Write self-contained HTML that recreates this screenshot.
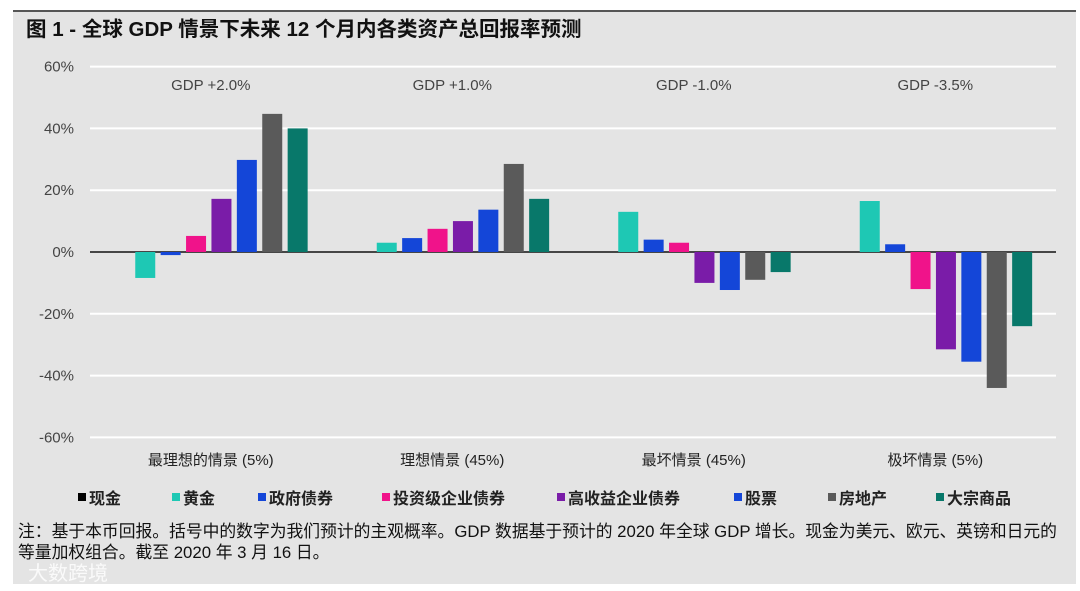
<!DOCTYPE html>
<html><head><meta charset="utf-8"><style>
body{margin:0;width:1080px;height:591px;background:#fff;overflow:hidden;font-family:"Liberation Sans","Noto Sans CJK SC",sans-serif}
#panel{position:absolute;left:13px;top:10px;width:1063px;height:572px;background:#e4e4e4;border-top:2px solid #555}
svg{position:absolute;left:0;top:0}
</style></head><body>
<div id="panel"></div>
<svg id="chart" width="1080" height="591">
<text x="26" y="36" font-size="20.5" font-weight="bold" fill="#111">图 1 - 全球 GDP 情景下未来 12 个月内各类资产总回报率预测</text>
<text x="18" y="537" font-size="16.8" fill="#111">注：基于本币回报。括号中的数字为我们预计的主观概率。GDP 数据基于预计的 2020 年全球 GDP 增长。现金为美元、欧元、英镑和日元的</text>
<text x="18" y="558" font-size="16.8" fill="#111">等量加权组合。截至 2020 年 3 月 16 日。</text>
<text x="28" y="580" font-size="20" fill="#fff" opacity="0.85">大数跨境</text>
</svg>
<script>
const categories=["最理想的情景 (5%)","理想情景 (45%)","最坏情景 (45%)","极坏情景 (5%)"];
const gdpLabels=["GDP +2.0%","GDP +1.0%","GDP -1.0%","GDP -3.5%"];
const seriesNames=["现金","黄金","政府债券","投资级企业债券","高收益企业债券","股票","房地产","大宗商品"];
const cash=[0,0,0,0];
const gold=[-8.4,3,13,16.5];
const govBonds=[-1,4.5,4,2.5];
const igCredit=[5.2,7.5,3,-12];
const hyCredit=[17.2,10,-10,-31.5];
const equities=[29.8,13.7,-12.3,-35.5];
const realEstate=[44.7,28.5,-9,-44];
const commodities=[40,17.2,-6.5,-24];
const yTicks=[60,40,20,0,-20,-40,-60];
const series=[cash,gold,govBonds,igCredit,hyCredit,equities,realEstate,commodities];
const colors=["#000","#1ec8b4","#1446d8","#f0138a","#7a1ca8","#1446d8","#5a5a5a","#08786a"];
const NS="http://www.w3.org/2000/svg";
const svg=document.getElementById('chart');
const X0=90,X1=1056,bw=(X1-X0)/categories.length;
const y=v=>252-v*3.09;
function mk(t,a){const e=document.createElementNS(NS,t);for(const k in a)e.setAttribute(k,a[k]);svg.appendChild(e);return e;}
yTicks.forEach(t=>{
 const g=mk('line',{x1:X0,x2:X1,y1:y(t),y2:y(t),stroke:t===0?'#111':'#fff','stroke-width':t===0?1.5:2});
 
 
 const l=mk('text',{x:74,y:y(t)+5,'text-anchor':'end','font-size':15,fill:'#444'});
 l.textContent=t+'%';
 
 
});
const step=25.4,barW=20;
categories.forEach((c,i)=>{
 const cx=X0+bw*(i+0.5)-2;
 const t=mk('text',{x:cx+2,y:90,'text-anchor':'middle','font-size':15,fill:'#444'});
 t.textContent=gdpLabels[i];
 
 
 const ct=mk('text',{x:cx+2,y:465,'text-anchor':'middle','font-size':15,fill:'#222'});
 ct.textContent=c;
 
 
 series.forEach((s,j)=>{
  const v=s[i];if(v===0)return;
  const bx=cx+(j-3.5)*step-barW/2;
  const r=mk('rect',{x:bx,y:Math.min(y(v),y(0)),width:barW,height:Math.abs(y(v)-y(0)),fill:colors[j]});
  
  
 });
});
const legX=[78,172,258,382,557,734,828,936];
seriesNames.forEach((n,j)=>{
 const r=mk('rect',{x:legX[j],y:493,width:8,height:8,fill:colors[j]});
 
 
 const t=mk('text',{x:legX[j]+11,y:504,'font-size':16,'font-weight':'bold',fill:'#222'});
 t.textContent=n;
 
 
});
</script>
</body></html>
